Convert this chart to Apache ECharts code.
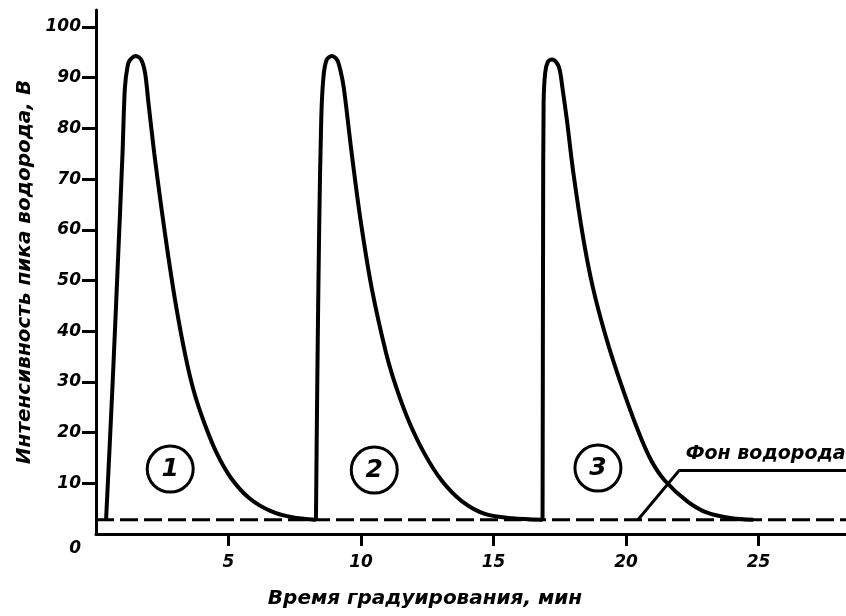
<!DOCTYPE html>
<html>
<head>
<meta charset="utf-8">
<script src="https://cdn.jsdelivr.net/npm/echarts@6/dist/echarts.min.js"></script>
<style>html,body{margin:0;padding:0;background:#fff}#c{width:846px;height:616px}</style>
</head>
<body>
<div id="c"></div>
<script>
// ---- data ----
const xTicks = [5, 10, 15, 20, 25];
const yTicks = [10, 20, 30, 40, 50, 60, 70, 80, 90, 100];
const yLabels = [0, 10, 20, 30, 40, 50, 60, 70, 80, 90, 100];

const peak1X = [0.38, 0.62, 0.84, 1.0, 1.09, 1.2, 1.3, 1.5, 1.7, 1.85, 1.98, 2.2, 2.45, 2.72, 3.02, 3.38, 3.7, 4.08, 4.55, 5.1, 5.8, 6.6, 7.4, 8.3];
const peak1Y = [2.8, 28.9, 55.3, 75, 88, 92.5, 93.6, 94.3, 93.6, 91, 85, 75, 65, 55, 45, 35, 28, 22, 16, 11, 7, 4.5, 3.3, 2.8];

const peak2X = [8.3, 8.35, 8.42, 8.5, 8.58, 8.7, 8.9, 9.1, 9.22, 9.35, 9.65, 9.98, 10.4, 10.95, 11.33, 11.8, 12.4, 13.05, 13.8, 14.7, 15.7, 16.85];
const peak2Y = [2.8, 30, 60, 82, 90, 93.5, 94.3, 93.5, 91.5, 88, 75, 62, 48.6, 35.6, 28.9, 22.3, 15.8, 10.5, 6.5, 3.9, 3.1, 2.8];

const peak3X = [16.85, 16.86, 16.87, 16.89, 16.95, 17.05, 17.2, 17.38, 17.5, 17.6, 17.77, 18.0, 18.38, 18.75, 19.25, 19.77, 20.45, 20.95, 21.47, 22.3, 23.06, 24.0, 24.8];
const peak3Y = [2.8, 30, 60, 85, 91, 93.1, 93.6, 93.0, 91.5, 88, 81.6, 71.7, 58.5, 48.6, 38.7, 30.2, 20.4, 14.5, 10.5, 6.5, 4.2, 3.1, 2.8];

const baselineX = [0, 28.3];
const baselineY = [2.8, 2.8];

const leaderX = [20.45, 22.0, 28.3];
const leaderY = [2.8, 12.5, 12.5];

const circleLabels = ['1', '2', '3'];
const circleX = [2.8, 10.5, 18.94];
const circleY = [12.8, 12.6, 13.0];

const noteText = ['Фон водорода'];
const noteX = [22.25];
const noteY = [15.8];

const xName = 'Время градуирования, мин';
const yName = 'Интенсивность пика водорода, В';

// ---- build ----
const zip = (a, b) => a.map((v, i) => [v, b[i]]);
const FONT = '"DejaVu Sans", sans-serif';
const txt = (size) => ({ fontFamily: FONT, fontWeight: 'bold', fontStyle: 'italic', fontSize: size, color: '#000' });

const curve = (x, y) => ({
  type: 'line', data: zip(x, y), showSymbol: false, smooth: 0.3,
  lineStyle: { color: '#000', width: 4 }, z: 3, silent: true
});

const chart = echarts.init(document.getElementById('c'));
chart.setOption({
  animation: false,
  backgroundColor: '#fff',
  grid: { left: 96, right: 0, top: 10, bottom: 82 },
  xAxis: {
    type: 'value', min: 0, max: 28.3,
    name: xName, nameLocation: 'middle', nameGap: 55,
    nameTextStyle: Object.assign(txt(20), { padding: [0, 92, 0, 0] }),
    axisLine: { show: true, lineStyle: { color: '#000', width: 3 } },
    axisTick: { show: true, length: 12, customValues: xTicks, lineStyle: { color: '#000', width: 3 } },
    axisLabel: Object.assign(txt(17), { margin: 20, customValues: xTicks }),
    splitLine: { show: false }
  },
  yAxis: {
    type: 'value', min: 0, max: 103.35,
    name: yName, nameLocation: 'middle', nameGap: 60, nameRotate: 90,
    nameTextStyle: txt(20),
    axisLine: { show: true, lineStyle: { color: '#000', width: 3 } },
    axisTick: { show: true, length: 14, customValues: yTicks, lineStyle: { color: '#000', width: 3 } },
    axisLabel: Object.assign(txt(17), {
      margin: 15, customValues: yLabels,
      formatter: v => v === 0 ? '{z|0}' : String(v),
      rich: { z: Object.assign(txt(17), { padding: [30, 0, 0, 0] }) }
    }),
    splitLine: { show: false }
  },
  series: [
    {
      type: 'line', data: zip(baselineX, baselineY), showSymbol: false,
      lineStyle: { color: '#000', width: 3, type: [18, 6] }, z: 2, silent: true
    },
    curve(peak1X, peak1Y),
    curve(peak2X, peak2Y),
    curve(peak3X, peak3Y),
    {
      type: 'line', data: zip(leaderX, leaderY), showSymbol: false,
      lineStyle: { color: '#000', width: 3 }, z: 3, silent: true
    },
    {
      type: 'scatter', data: circleX.map((x, i) => [x, circleY[i], circleLabels[i]]),
      symbol: 'circle', symbolSize: 46,
      itemStyle: { color: '#fff', borderColor: '#000', borderWidth: 3, opacity: 1 },
      label: Object.assign(txt(25), { show: true, position: 'inside', formatter: p => p.value[2] }),
      z: 4, silent: true
    },
    {
      type: 'scatter', data: noteX.map((x, i) => [x, noteY[i], noteText[i]]),
      symbolSize: 0, itemStyle: { opacity: 1 },
      label: Object.assign(txt(19), { show: true, position: 'right', distance: 0, formatter: p => p.value[2] }),
      z: 4, silent: true
    }
  ]
});
</script>
</body>
</html>
